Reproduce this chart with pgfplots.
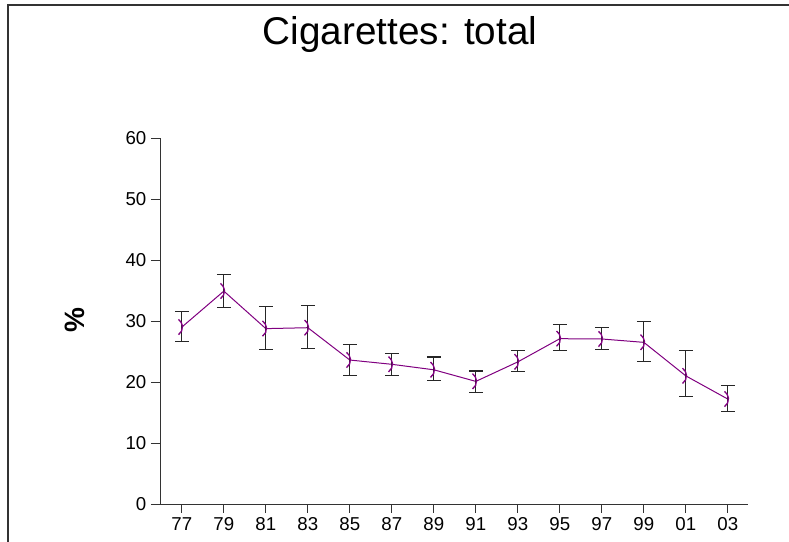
\documentclass[border=0pt]{standalone}
\usepackage{pgfplots}
\pgfplotsset{compat=1.18}
\usepackage{fontspec}
\setmainfont{Liberation Sans}
\definecolor{linepurple}{RGB}{128,0,128}
\pgfdeclareplotmark{paren}{%
  \pgfpathmoveto{\pgfqpoint{-2.5pt}{-5.7pt}}%
  \pgfpatharc{-55}{55}{7pt}%
  \pgfusepathqstroke}
\pgfplotstableread{
x y ep em
0 29.0 2.6 2.4
1 34.9 2.7 2.7
2 28.75 3.65 3.45
3 28.9 3.6 3.4
4 23.6 2.5 2.6
5 22.9 1.8 1.9
6 22.0 2.1 1.8
7 20.1 1.7 1.8
8 23.3 1.8 1.6
9 27.1 2.3 2.0
10 27.05 1.85 1.75
11 26.5 3.4 3.1
12 21.0 4.1 3.4
13 17.2 2.3 2.0
}\cig
\begin{document}
\begin{tikzpicture}[x=0.75pt,y=0.75pt]
\useasboundingbox (0,0) rectangle (789,542);
\draw[line width=1.1pt, black!80] (8,0) -- (8,537) -- (789,537);
\node[anchor=base, font=\fontsize{29}{32}\selectfont] at (400,497) {Cigarettes: total};
\node[rotate=90, font=\fontsize{21}{24}\selectfont\bfseries] at (74.5,221.5) {\%};
\begin{axis}[
  at={(120pt,28.5pt)}, anchor=south west,
  scale only axis, width=441pt, height=274.5pt,
  axis lines*=left,
  xmin=-0.52, xmax=13.48, ymin=0, ymax=60,
  xtick={0,...,13},
  xticklabels={77,79,81,83,85,87,89,91,93,95,97,99,01,03},
  ytick={0,10,...,60},
  tick align=outside, major tick length=6.75pt,
  tick style={black!80, line width=0.6pt},
  axis line style={black!80, line width=0.7pt},
  /pgf/number format/assume math mode=true,
  ticklabel style={font=\fontsize{14}{16}\selectfont},
  clip=false,
]
\addplot[linepurple, line width=0.75pt, mark=paren, mark options={line width=1pt, linepurple},
  error bars/.cd, y dir=both, y explicit,
  error bar style={black!85, line width=0.8pt},
  error mark options={rotate=90, mark size=5.25pt, black!85, line width=0.8pt}]
  table[x=x, y=y, y error plus=ep, y error minus=em] {\cig};
\end{axis}
\end{tikzpicture}
\end{document}
